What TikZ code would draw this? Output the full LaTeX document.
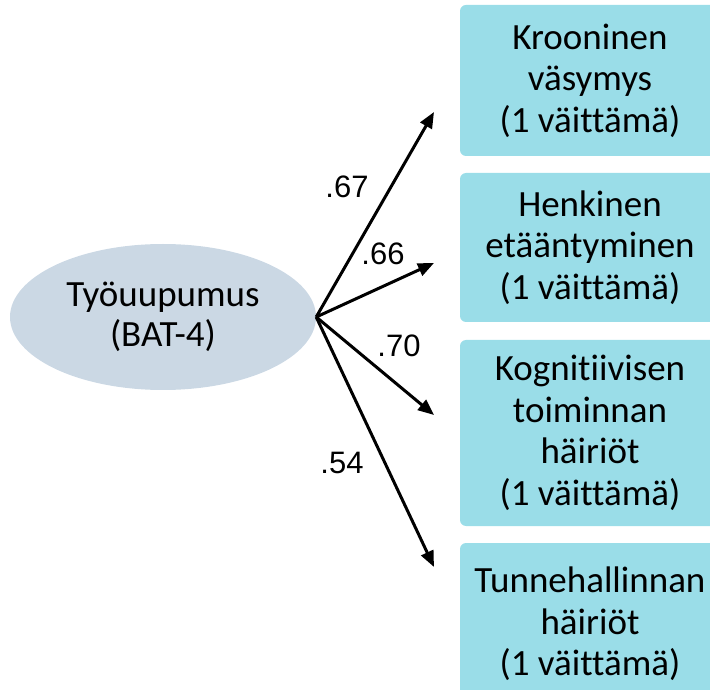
\documentclass[tikz,border=0pt]{standalone}
\usepackage{fontspec}
\setmainfont[Ligatures=NoCommon]{Carlito}
\newfontfamily\numfont{Liberation Sans}
\usetikzlibrary{shapes.geometric,arrows.meta}
\definecolor{itembox}{HTML}{9ADDE8}
\definecolor{latent}{HTML}{CBD8E4}
\tikzset{
  itemnode/.style={draw=none,fill=itembox,rounded corners=6pt,minimum width=260pt,align=center,font=\fontsize{37}{41.5}\selectfont,inner sep=0pt},
  loading/.style={line width=3pt,-{Triangle[length=16pt,width=13pt]}},
  coef/.style={font=\numfont\fontsize{31}{34}\selectfont,inner sep=0pt}
}
\begin{document}
\begin{tikzpicture}[x=1pt,y=1pt]
                \useasboundingbox (0,0) rectangle (710,689);
                \node[ellipse,fill=latent,minimum width=306pt,minimum height=146pt,align=center,font=\fontsize{37}{40}\selectfont,inner sep=0pt] (bat) at (163,372) {Työuupumus\\(BAT-4)};
                \node[itemnode,minimum height=151pt] (fat) at (590,608.5) {Krooninen\\väsymys\\(1 väittämä)};
                \node[itemnode,minimum height=149pt] (dist) at (590,441.5) {Henkinen\\etääntyminen\\(1 väittämä)};
                \node[itemnode,minimum height=186pt] (cog) at (590,256) {Kognitiivisen\\toiminnan\\häiriöt\\(1 väittämä)};
                \node[itemnode,minimum height=157pt,text depth=0pt] (emo) at (590,67.5) {Tunnehallinnan\\häiriöt\\(1 väittämä)};
                \coordinate (e1) at (434,577);
                \coordinate (e2) at (434,426);
                \coordinate (e3) at (434,274);
                \coordinate (e4) at (434,122);
                \draw[loading] (bat.east)--(e1);
                \draw[loading] (bat.east)--(e2);
                \draw[loading] (bat.east)--(e3);
                \draw[loading] (bat.east)--(e4);
                \node[coef] (l1) at (347,502) {.67};
                \node[coef] (l2) at (383,435) {.66};
                \node[coef] (l3) at (399,343) {.70};
                \node[coef] (l4) at (342,226) {.54};
            \end{tikzpicture}
\end{document}
